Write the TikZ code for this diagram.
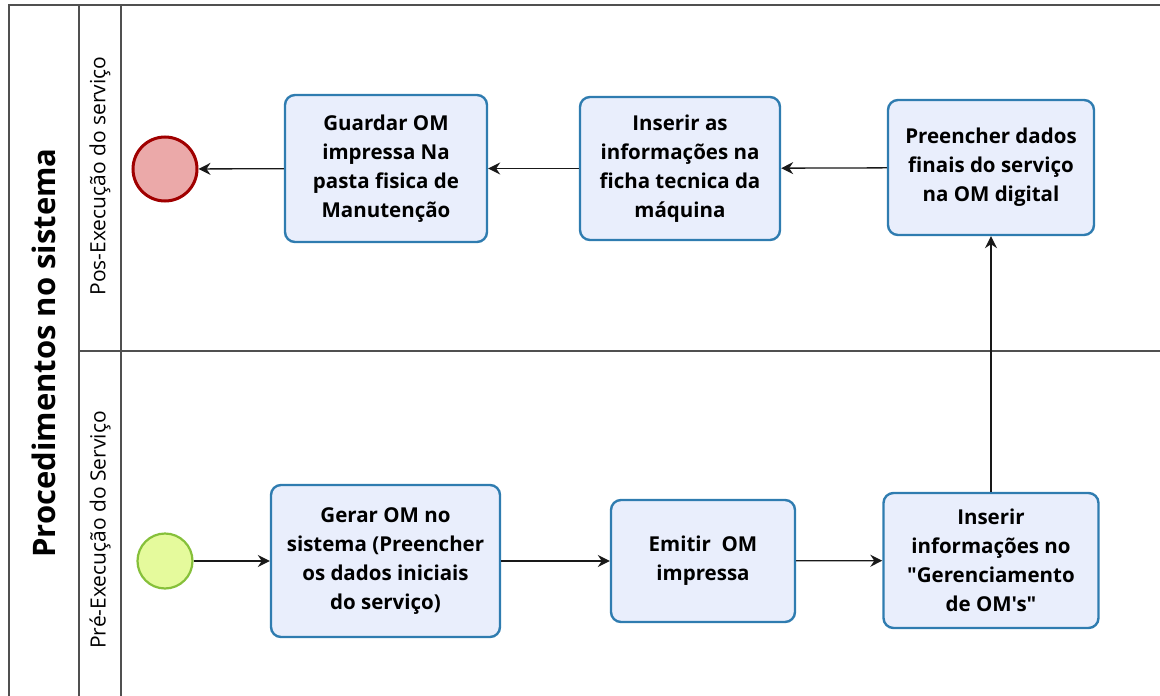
\documentclass[tikz,border=0pt]{standalone}
\usepackage{fontspec}
\setmainfont{Open Sans}[Ligatures=TeXOff]
\usetikzlibrary{arrows.meta}
\definecolor{taskfill}{HTML}{E9EEFC}
\definecolor{taskline}{HTML}{2F7CB0}
\definecolor{endfill}{HTML}{EBA9A9}
\definecolor{endline}{HTML}{A00000}
\definecolor{startfill}{HTML}{E5FA9C}
\definecolor{startline}{HTML}{86C03A}
\definecolor{poolline}{HTML}{505050}
\begin{document}
\begin{tikzpicture}[x=1pt,y=-1pt,
  pool/.style={draw=poolline,line width=1.4pt},
  task/.style={draw=taskline,fill=taskfill,line width=2.4pt,rounded corners=10pt,
    align=center,inner sep=0pt,font=\fontsize{20.5}{29}\selectfont\bfseries},
  endev/.style={circle,draw=endline,fill=endfill,line width=3pt,minimum size=64pt,inner sep=0pt},
  startev/.style={circle,draw=startline,fill=startfill,line width=2.2pt,minimum size=55pt,inner sep=0pt},
  flow/.style={draw=black!90,line width=1.3pt,-{Stealth[length=12pt,width=12pt,inset=4pt]}},
  lanelabel/.style={rotate=90,font=\fontsize{21}{24}\selectfont},
  pooltitle/.style={rotate=90,font=\fontsize{31}{36}\selectfont\bfseries}]
\useasboundingbox (0,0) rectangle (1160,696);

% pool and lane frames
\draw[pool] (9,696) -- (9,5) -- (1160,5);
\draw[pool] (79,5) -- (79,696);
\draw[pool] (121,5) -- (121,696);
\draw[pool] (79,351) -- (1160,351);

% headers
\node[pooltitle] (title) at (44,353) {Procedimentos no sistema};
\node[lanelabel] (lanepos) at (100,176) {Pos-Execução do serviço};
\node[lanelabel] (lanepre) at (100,530) {Pré-Execução do Serviço};

% upper lane
\node[endev] (fim) at (165,169) {};
\node[task,minimum width=202pt,minimum height=147pt] (guardar) at (386,168.5)
  {Guardar OM\\impressa Na\\pasta fisica de\\Manutenção};
\node[task,minimum width=200pt,minimum height=143pt] (ficha) at (680,168.5)
  {Inserir as\\informações na\\ficha tecnica da\\máquina};
\node[task,minimum width=206pt,minimum height=135pt] (finais) at (991,167.5)
  {Preencher dados\\finais do serviço\\na OM digital};

% lower lane
\node[startev] (inicio) at (165,561) {};
\node[task,minimum width=229pt,minimum height=152pt] (gerar) at (385.5,561)
  {Gerar OM no\\sistema (Preencher\\os dados iniciais\\do serviço)};
\node[task,minimum width=184pt,minimum height=122pt] (emitir) at (703,561)
  {Emitir~ OM\\impressa};
\node[task,minimum width=215pt,minimum height=135pt] (gerenc) at (991,560.5)
  {Inserir\\informações no\\"Gerenciamento\\de OM's"};

% sequence flows
\draw[flow] (inicio) -- (gerar);
\draw[flow] (gerar) -- (emitir);
\draw[flow] (emitir) -- (gerenc);
\draw[flow] (gerenc) -- (finais);
\draw[flow] (finais) -- (ficha);
\draw[flow] (ficha) -- (guardar);
\draw[flow] (guardar) -- (fim);
\end{tikzpicture}
\end{document}
